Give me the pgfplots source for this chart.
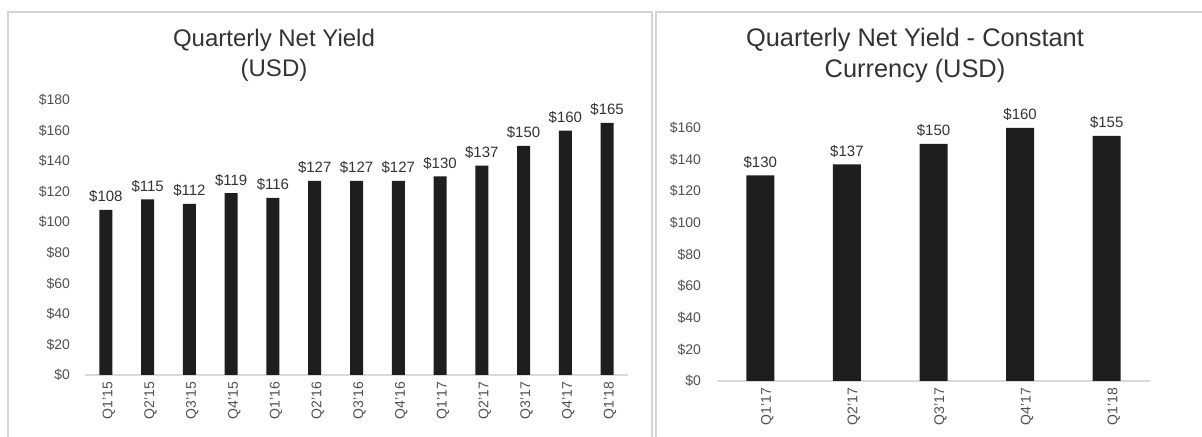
\documentclass[border=0pt]{standalone}
\usepackage{fontspec}
\setmainfont{Liberation Sans}
\usepackage{pgfplots}
\pgfplotsset{compat=1.18}
\definecolor{bar}{HTML}{1E1E1E}
\definecolor{tick}{HTML}{505050}
\definecolor{ttl}{HTML}{333333}
\definecolor{frame}{HTML}{D4D4D4}
\definecolor{axl}{HTML}{D9D9D9}
\pgfplotsset{
  mybars/.style={
    scale only axis, anchor=south west,
    ybar, ymin=0, clip=false,
    axis x line*=bottom, axis y line*=left,
    y axis line style={draw=none},
    x axis line style={draw=axl, line width=0.8pt},
    major tick length=0pt,
    /pgf/number format/assume math mode=true,
    yticklabel={\$\pgfmathprintnumber{\tick}},
    yticklabel style={font=\fontsize{7}{8}\selectfont, text=tick},
    xticklabel style={font=\fontsize{7}{8}\selectfont, text=tick, rotate=90, anchor=east},
    xtick=data,
    nodes near coords={\$\pgfmathprintnumber{\pgfplotspointmeta}},
    every node near coord/.append style={font=\fontsize{7.5}{8}\selectfont, text=ttl},
  }
}
\begin{document}
\begin{tikzpicture}
\useasboundingbox (0,0) rectangle (601pt,218.5pt);
\fill[white] (0,0) rectangle (601pt,218.5pt);
% panel frames
\draw[frame, line width=0.7pt] (4pt,0) -- (4pt,212.5pt) -- (326pt,212.5pt) -- (326pt,0);
\draw[frame, line width=0.7pt] (328pt,0) -- (328pt,212.5pt) -- (601pt,212.5pt);
% titles
\node[align=center, text=ttl, font=\fontsize{12}{15}\selectfont] at (137pt,191pt) {Quarterly Net Yield\\(USD)};
\node[align=center, text=ttl, font=\fontsize{12.7}{15.5}\selectfont] at (457.5pt,191pt) {Quarterly Net Yield - Constant\\Currency (USD)};
% left chart
\begin{axis}[mybars,
  at={(42.5pt,31pt)}, width=271.5pt, height=137.5pt,
  xmin=-0.5, xmax=12.5, ymax=180, ytick={0,20,...,180},
  bar width=6.5pt,
  xticklabels={Q1'15,Q2'15,Q3'15,Q4'15,Q1'16,Q2'16,Q3'16,Q4'16,Q1'17,Q2'17,Q3'17,Q4'17,Q1'18},
  yticklabel style={xshift=-4pt},
  xticklabel style={yshift=-1.5pt},
]
\addplot[fill=bar, draw=none] coordinates {
 (0,108) (1,115) (2,112) (3,119) (4,116) (5,127) (6,127) (7,127) (8,130) (9,137) (10,150) (11,160) (12,165)};
\end{axis}
% right chart
\begin{axis}[mybars,
  at={(358.5pt,28pt)}, width=216.5pt, height=126.5pt,
  xmin=-0.5, xmax=4.5, ymax=160, ytick={0,20,...,160},
  bar width=14pt,
  xticklabels={Q1'17,Q2'17,Q3'17,Q4'17,Q1'18},
  yticklabel style={xshift=-4.5pt},
  xticklabel style={yshift=-3.5pt},
]
\addplot[fill=bar, draw=none] coordinates {
 (0,130) (1,137) (2,150) (3,160) (4,155)};
\end{axis}
\end{tikzpicture}
\end{document}
